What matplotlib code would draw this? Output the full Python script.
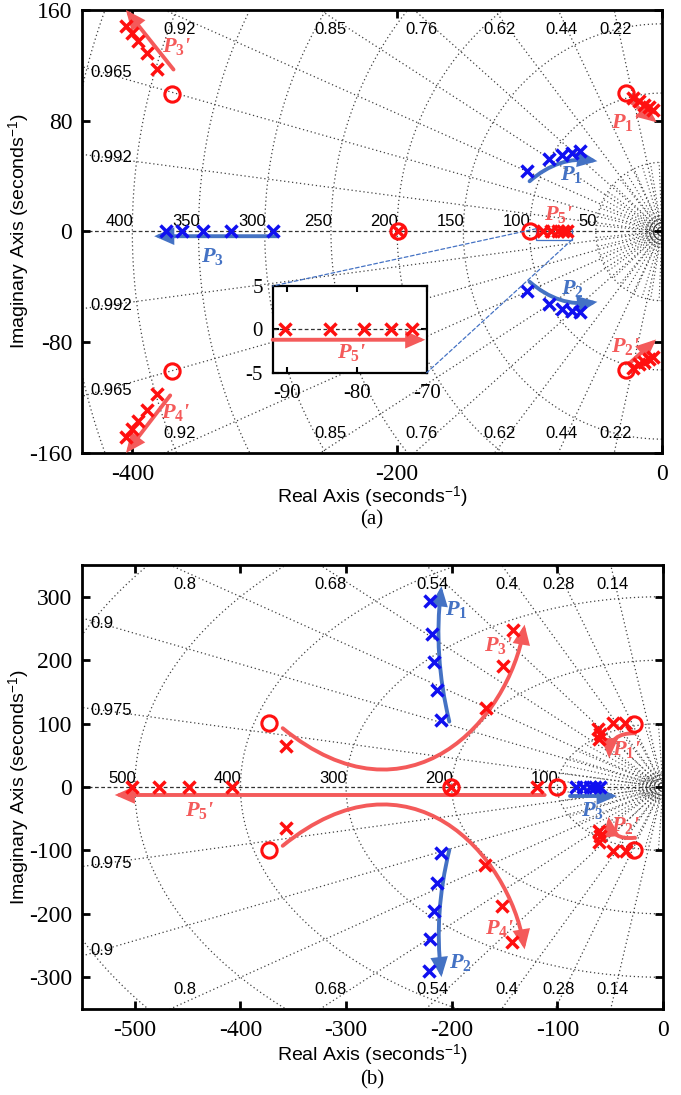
import numpy as np
import matplotlib
matplotlib.use("Agg")
import matplotlib.pyplot as plt
from matplotlib.patches import FancyArrowPatch, Rectangle, ConnectionPatch
from matplotlib.path import Path

plt.rcParams["font.family"] = ["Liberation Sans", "DejaVu Sans"]
plt.rcParams["mathtext.fontset"] = "custom"
plt.rcParams["mathtext.rm"] = "Liberation Sans"
plt.rcParams["mathtext.it"] = "Liberation Serif:italic:bold"
plt.rcParams["mathtext.bf"] = "Liberation Serif:bold"
plt.rcParams["axes.unicode_minus"] = False

RED = "#FF1010"
BLUE = "#1010F0"
RED_AR = "#F45A5A"
BLUE_AR = "#4472C4"
GRID_C = "0.25"
DOT = (0, (1, 2.2))
HEAD = "-|>,head_length=0.8,head_width=0.35"

'''[1]: data - panel (a)'''
a_xlim = (-438, 0)
a_ylim = (-160, 160)
a_zetas = [0.22, 0.44, 0.62, 0.76, 0.85, 0.92, 0.965, 0.992]
a_wn = [50, 100, 150, 200, 250, 300, 350, 400, 450]

a_p3p_re = [-404.8, -400.5, -395.6, -389.0, -381.7]
a_p3p_im = [148.2, 143.5, 137.3, 129.0, 117.5]
a_p4p_re = [-404.8, -400.5, -395.6, -389.0, -381.7]
a_p4p_im = [-148.5, -143.0, -137.0, -129.2, -117.7]
a_p1_re = [-102.0, -85.7, -75.6, -68.1, -61.8]
a_p1_im = [43.5, 52.5, 55.6, 56.8, 58.0]
a_p2_re = [-102.0, -85.7, -75.6, -68.1, -61.8]
a_p2_im = [-43.1, -52.2, -55.8, -57.5, -58.3]
a_p3_re = [-374.7, -362.6, -346.6, -325.7, -293.8]
a_p1p_re = [-21.6, -17.1, -13.3, -9.8, -6.6]
a_p1p_im = [96.5, 94.2, 91.7, 89.9, 88.1]
a_p2p_re = [-21.6, -17.1, -13.3, -9.8, -6.6]
a_p2p_im = [-98.4, -96.0, -94.1, -92.4, -90.3]
a_p5p_re = [-90.2, -83.8, -78.9, -75.1, -72.1]
a_zero_re = [-370.4, -370.4, -27.1, -27.1, -99.5]
a_zero_im = [99.4, -100.9, 100.1, -100.1, 0.0]
a_cancel_re = [-199.0]

'''[2]: data - panel (b)'''
b_xlim = (-550, 0)
b_ylim = (-350, 350)
b_zetas = [0.14, 0.28, 0.4, 0.54, 0.68, 0.8, 0.9, 0.975]
b_wn = [100, 200, 300, 400, 500, 600]

b_p5p_re = [-503.0, -477.0, -448.6, -407.9, -119.0]
b_p3p_re = [-357.0, -167.9, -151.8, -141.8]
b_p3p_im = [64.8, 124.3, 190.0, 247.0]
b_p4p_re = [-357.0, -168.6, -152.6, -142.5]
b_p4p_im = [-65.3, -123.2, -188.0, -244.4]
b_p1_re = [-220.6, -219.0, -216.6, -214.3, -210.2]
b_p1_im = [292.7, 241.2, 196.4, 153.2, 105.8]
b_p2_re = [-210.2, -214.3, -216.8, -220.6, -221.3]
b_p2_im = [-104.7, -152.1, -195.9, -239.0, -290.7]
b_p3_re = [-82.4, -75.5, -69.1, -64.4, -59.7]
b_p1p_re = [-36.0, -47.6, -61.3, -59.7, -60.3]
b_p1p_im = [101.6, 101.6, 91.0, 83.0, 75.0]
b_p2p_re = [-35.0, -47.0, -60.6, -59.7, -60.6]
b_p2p_im = [-100.6, -100.6, -86.4, -78.0, -70.0]
b_zero_re = [-372.8, -372.8, -100.7, -27.5, -27.5]
b_zero_im = [100.6, -99.5, 0.0, 99.5, -100.0]
b_cancel_re = [-200.8]


def sgrid(ax, zetas, wns, xlim, ylim, r_in):
    xmin, ymax = xlim[0], ylim[1]
    phi = np.linspace(-np.pi / 2, np.pi / 2, 500)
    for wn in wns:
        ax.plot(-wn * np.cos(phi), wn * np.sin(phi), ls=DOT, color=GRID_C, lw=0.9, zorder=1)
        if wn < -xmin - 10:
            ax.text(-wn + 1, 1.5, str(wn), ha="right", va="bottom", fontsize=12, zorder=2)
    r_far = np.hypot(xmin, ymax) * 1.2
    for z in zetas:
        s = np.sqrt(1 - z * z)
        for sg in (1, -1):
            ax.plot([0, -r_far * z], [0, sg * r_far * s], ls=DOT, color=GRID_C, lw=0.9, zorder=1)
            x_top = -ymax * z / s
            if x_top > xmin:
                ax.text(0.97 * x_top, sg * 0.91 * ymax, f"{z:g}", ha="center", va="center",
                        fontsize=12, zorder=2)
            else:
                y_left = -xmin * s / z
                ax.text(xmin - 0.014 * xmin, sg * 0.965 * y_left, f"{z:g}", ha="left",
                        va="center", fontsize=12, zorder=2)
    # finer grid close to the origin
    for ang in np.radians(np.arange(5, 90, 7.5)):
        for sg in (1, -1):
            ax.plot([-0.12 * r_in * np.cos(ang), -r_in * np.cos(ang)],
                    [sg * 0.12 * r_in * np.sin(ang), sg * r_in * np.sin(ang)],
                    ls=DOT, color=GRID_C, lw=0.8, zorder=1)
    for r in r_in * np.array([0.03, 0.06, 0.1, 0.13, 0.16, 0.19, 0.22]):
        ax.plot(-r * np.cos(phi), r * np.sin(phi), ls=DOT, color=GRID_C, lw=0.8, zorder=1)
    ax.axhline(0, ls=(0, (3, 2)), color="0.2", lw=0.9, zorder=1)


def arrow(ax, p0, p1, color, rad=0.0):
    ar = FancyArrowPatch(p0, p1, connectionstyle=f"arc3,rad={rad}", arrowstyle=HEAD,
                         mutation_scale=12, lw=2.8, color=color, shrinkA=0, shrinkB=0,
                         joinstyle="miter", zorder=5, clip_on=False)
    ax.add_patch(ar)


def curve_arrow(ax, pts, color):
    path = Path(pts, [Path.MOVETO, Path.CURVE4, Path.CURVE4, Path.CURVE4])
    ar = FancyArrowPatch(path=path, arrowstyle=HEAD, mutation_scale=12, lw=2.8,
                         color=color, joinstyle="miter", zorder=5)
    ax.add_patch(ar)


def plabel(ax, x, y, txt, color):
    ax.text(x, y, txt, fontfamily="Liberation Serif", fontstyle="italic", fontweight="bold",
            fontsize=16, color=color, ha="center", va="center", zorder=7)


def poles(ax, re, im, color):
    ax.plot(re, im, "x", color=color, ms=9, mew=2.5, ls="none", zorder=6)


def zeros(ax, re, im):
    ax.plot(re, im, "o", mfc="none", mec=RED, ms=11, mew=2.2, ls="none", zorder=6)


def style_axes(ax, xlim, ylim, xticks, yticks, size=17):
    ax.set_xlim(*xlim)
    ax.set_ylim(*ylim)
    ax.set_xticks(xticks)
    ax.set_yticks(yticks)
    ax.tick_params(direction="in", top=True, right=True, length=6, width=2, labelsize=size)
    ax.tick_params(axis="x", pad=8)
    ax.tick_params(axis="y", pad=7)
    for lab in ax.get_xticklabels() + ax.get_yticklabels():
        lab.set_fontfamily("Liberation Serif")
    for sp in ax.spines.values():
        sp.set_linewidth(2)


fig = plt.figure(figsize=(6.81, 10.95), dpi=100)
W, H = 681, 1095

'''[3]: panel (a)'''
ax1 = fig.add_axes([82 / W, 1 - 453 / H, 580 / W, 443 / H])
style_axes(ax1, a_xlim, a_ylim, [-400, -200, 0], [-160, -80, 0, 80, 160])
sgrid(ax1, a_zetas, a_wn, a_xlim, a_ylim, 50)

poles(ax1, a_p3p_re, a_p3p_im, RED)
poles(ax1, a_p4p_re, a_p4p_im, RED)
poles(ax1, a_p1p_re, a_p1p_im, RED)
poles(ax1, a_p2p_re, a_p2p_im, RED)
poles(ax1, a_p5p_re, [0] * len(a_p5p_re), RED)
poles(ax1, a_p1_re, a_p1_im, BLUE)
poles(ax1, a_p2_re, a_p2_im, BLUE)
poles(ax1, a_p3_re, [0] * len(a_p3_re), BLUE)
zeros(ax1, a_zero_re, a_zero_im)
zeros(ax1, a_cancel_re, [0])
poles(ax1, a_cancel_re, [0], RED)

arrow(ax1, (-368.9, 117.0), (-404.8, 160.0), RED_AR)
arrow(ax1, (-371.4, -118.4), (-404.8, -160.0), RED_AR)
arrow(ax1, (-290.5, -3.4), (-383.5, -3.4), BLUE_AR)
arrow(ax1, (-100.0, 36.3), (-48.8, 50.8), BLUE_AR, rad=-0.23)
arrow(ax1, (-100.0, -36.3), (-48.8, -50.8), BLUE_AR, rad=0.23)
arrow(ax1, (-24.1, 94.1), (-4.0, 78.9), RED_AR)
arrow(ax1, (-24.1, -94.8), (-4.5, -78.0), RED_AR)

plabel(ax1, -366.7, 133.8, r"$P_{\mathbf{3}}$'", RED_AR)
plabel(ax1, -367.0, -130.9, r"$P_{\mathbf{4}}$'", RED_AR)
plabel(ax1, -339.5, -17.8, r"$P_{\mathbf{3}}$", BLUE_AR)
plabel(ax1, -68.6, 41.2, r"$P_{\mathbf{1}}$", BLUE_AR)
plabel(ax1, -68.1, -41.4, r"$P_{\mathbf{2}}$", BLUE_AR)
plabel(ax1, -27.1, 79.0, r"$P_{\mathbf{1}}$'", RED_AR)
plabel(ax1, -27.1, -82.8, r"$P_{\mathbf{2}}$'", RED_AR)
plabel(ax1, -77.6, 12.3, r"$P_{\mathbf{5}}$'", RED_AR)

ax1.add_patch(Rectangle((-95, -6), 27, 8, fill=False, ec=BLUE_AR, lw=0.9, zorder=4))

'''inset zoom of P5' branch'''
axi = fig.add_axes([272.7 / W, 1 - 372.7 / H, 154 / W, 86.7 / H])
axi.set_facecolor("white")
style_axes(axi, (-92, -70), (-5, 5), [-90, -80, -70], [-5, 0, 5], size=15)
axi.tick_params(length=4, width=1.5)
for sp in axi.spines.values():
    sp.set_linewidth(1.6)
axi.axhline(0, ls=(0, (3, 2)), color="0.2", lw=0.9)
poles(axi, a_p5p_re, [0] * len(a_p5p_re), RED)
arrow(axi, (-92, -1.2), (-70.2, -1.2), RED_AR)
plabel(axi, -80.7, -2.7, r"$P_{\mathbf{5}}$'", RED_AR)

for pa, pb in [((-95, 2), (-92, 5)), ((-68, -6), (-70, -5))]:
    con = ConnectionPatch(xyA=pa, coordsA=ax1.transData, xyB=pb, coordsB=axi.transData,
                          color=BLUE_AR, lw=0.9, ls=(0, (3, 2)), zorder=3)
    fig.add_artist(con)

fig.text(372 / W, 1 - 497 / H, r"Real Axis (seconds$^{-1}$)", ha="center", va="center", fontsize=14)
fig.text(19 / W, 1 - 231.5 / H, r"Imaginary Axis (seconds$^{-1}$)", ha="center", va="center",
         rotation=90, fontsize=14)
fig.text(372 / W, 1 - 520 / H, "(a)", ha="center", va="center", fontsize=15, fontfamily="Liberation Serif")

'''[4]: panel (b)'''
ax2 = fig.add_axes([82 / W, 1 - 1009 / H, 581 / W, 444 / H])
style_axes(ax2, b_xlim, b_ylim, [-500, -400, -300, -200, -100, 0], [-300, -200, -100, 0, 100, 200, 300])
sgrid(ax2, b_zetas, b_wn, b_xlim, b_ylim, 100)

poles(ax2, b_p5p_re, [0] * len(b_p5p_re), RED)
poles(ax2, b_p3p_re, b_p3p_im, RED)
poles(ax2, b_p4p_re, b_p4p_im, RED)
poles(ax2, b_p1p_re, b_p1p_im, RED)
poles(ax2, b_p2p_re, b_p2p_im, RED)
poles(ax2, b_p1_re, b_p1_im, BLUE)
poles(ax2, b_p2_re, b_p2_im, BLUE)
poles(ax2, b_p3_re, [0] * len(b_p3_re), BLUE)
zeros(ax2, b_zero_re, b_zero_im)
zeros(ax2, b_cancel_re, [0])
poles(ax2, b_cancel_re, [0], RED)

arrow(ax2, (-112.0, -12.6), (-519.0, -12.6), RED_AR)
arrow(ax2, (-88.0, -14.2), (-43.8, -14.2), BLUE_AR)
arrow(ax2, (-202.3, 103.2), (-209.7, 316.5), BLUE_AR, rad=-0.09)
arrow(ax2, (-202.3, -99.5), (-209.7, -299.7), BLUE_AR, rad=0.09)
arrow(ax2, (-26.5, 84.8), (-50.9, 45.3), RED_AR, rad=0.5)
arrow(ax2, (-26.5, -80.0), (-51.5, -47.0), RED_AR, rad=-0.5)
curve_arrow(ax2, [(-360, 92.7), (-240, -70), (-146, 106), (-131, 256)], RED_AR)
curve_arrow(ax2, [(-360, -92.7), (-240, 70), (-146, -106), (-131, -256)], RED_AR)

plabel(ax2, -195.4, 279.6, r"$P_{\mathbf{1}}$", BLUE_AR)
plabel(ax2, -192.0, -277.0, r"$P_{\mathbf{2}}$", BLUE_AR)
plabel(ax2, -67.2, -36.3, r"$P_{\mathbf{3}}$", BLUE_AR)
plabel(ax2, -155.0, 222.7, r"$P_{\mathbf{3}}$'", RED_AR)
plabel(ax2, -154.4, -223.0, r"$P_{\mathbf{4}}$'", RED_AR)
plabel(ax2, -438.4, -36.3, r"$P_{\mathbf{5}}$'", RED_AR)
plabel(ax2, -34.4, 58.5, r"$P_{\mathbf{1}}$'", RED_AR)
plabel(ax2, -35.0, -60.0, r"$P_{\mathbf{2}}$'", RED_AR)

fig.text(372 / W, 1 - 1055 / H, r"Real Axis (seconds$^{-1}$)", ha="center", va="center", fontsize=14)
fig.text(19 / W, 1 - 787 / H, r"Imaginary Axis (seconds$^{-1}$)", ha="center", va="center",
         rotation=90, fontsize=14)
fig.text(372 / W, 1 - 1080 / H, "(b)", ha="center", va="center", fontsize=15, fontfamily="Liberation Serif")

fig.savefig("out.png", dpi=100)
